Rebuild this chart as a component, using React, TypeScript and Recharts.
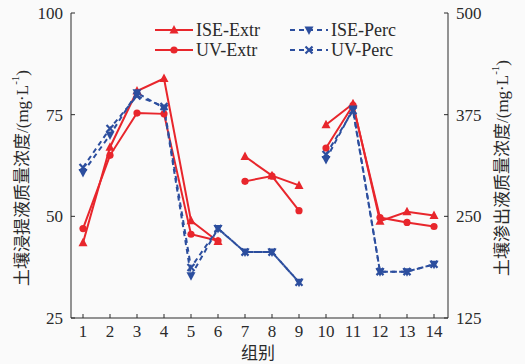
import { Line, LineChart, XAxis, YAxis } from 'recharts';

const groups = ['1', '2', '3', '4', '5', '6', '7', '8', '9', '10', '11', '12', '13', '14'];
const iseExtr = [43.5, 67.0, 80.8, 83.9, 48.9, 43.8, 64.7, 60.0, 57.6, 72.5, 77.7, 48.8, 51.1, 50.2];
const uvExtr = [47.0, 65.0, 75.4, 75.2, 45.6, 44.0, 58.6, 59.9, 51.4, 66.8, 77.3, 49.7, 48.5, 47.5];
const isePerc = [304, 350, 402, 383, 177, 235, 206, 206, 169, 320, 382, 182, 182, 191];
const uvPerc = [310, 358, 398, 385, 187, 235, 206, 206, 169, 326, 380, 182, 182, 191];
const leftTicks = [25, 50, 75, 100];
const rightTicks = [125, 250, 375, 500];

// index ranges that are joined by a line
const extrSegments = [[0, 5], [6, 8], [9, 13]];
const percSegments = [[0, 8], [9, 13]];

const RED = '#e8262c';
const BLUE = '#2c4e9e';
const FONT = "'Liberation Serif', 'Noto Sans CJK SC', serif";
const INK = '#2a2a2a';

type Marker = 'up' | 'circle' | 'down' | 'cross';

const series = [
  { key: 'iseExtr', name: 'ISE-Extr', values: iseExtr, segments: extrSegments, color: RED, dashed: false, marker: 'up' as Marker, axis: 'left' },
  { key: 'uvExtr', name: 'UV-Extr', values: uvExtr, segments: extrSegments, color: RED, dashed: false, marker: 'circle' as Marker, axis: 'left' },
  { key: 'isePerc', name: 'ISE-Perc', values: isePerc, segments: percSegments, color: BLUE, dashed: true, marker: 'down' as Marker, axis: 'right' },
  { key: 'uvPerc', name: 'UV-Perc', values: uvPerc, segments: percSegments, color: BLUE, dashed: true, marker: 'cross' as Marker, axis: 'right' },
];

const rows = groups.map((g, i) => {
  const row: any = { group: g };
  series.forEach((s) => {
    s.segments.forEach(([a, b], k) => {
      row[`${s.key}${k}`] = i >= a && i <= b ? s.values[i] : null;
    });
  });
  return row;
});

function drawMarker(type: Marker, cx: number, cy: number, color: string, key?: any) {
  if (type === 'up') {
    return <path key={key} d={`M${cx},${cy - 5} L${cx + 4.5},${cy + 3.5} L${cx - 4.5},${cy + 3.5} Z`} fill={color} />;
  }
  if (type === 'down') {
    return <path key={key} d={`M${cx},${cy + 5} L${cx + 4.5},${cy - 3.5} L${cx - 4.5},${cy - 3.5} Z`} fill={color} />;
  }
  if (type === 'circle') {
    return <circle key={key} cx={cx} cy={cy} r={3.6} fill={color} />;
  }
  return (
    <path
      key={key}
      d={`M${cx - 3.5},${cy - 3.5} L${cx + 3.5},${cy + 3.5} M${cx - 3.5},${cy + 3.5} L${cx + 3.5},${cy - 3.5}`}
      stroke={color}
      strokeWidth={2.2}
    />
  );
}

const dotFor = (type: Marker, color: string) => (props: any) => {
  const { cx, cy, value, index } = props;
  if (value == null || cx == null || cy == null) return <g key={index} />;
  return drawMarker(type, cx, cy, color, index);
};

const XTick = (props: any) => {
  const { x, y, payload } = props;
  return (
    <g>
      <line x1={x} x2={x} y1={y - 6} y2={y - 10} stroke={INK} strokeWidth={1} />
      <text x={x} y={y} dy="0.75em" textAnchor="middle" fontFamily={FONT} fontSize={17} fill={INK}>
        {payload.value}
      </text>
    </g>
  );
};

const LeftTick = (props: any) => {
  const { x, y, payload } = props;
  return (
    <g>
      <line x1={x + 8} x2={x + 12} y1={y} y2={y} stroke={INK} strokeWidth={1} />
      <text x={x} y={y} dy="0.35em" textAnchor="end" fontFamily={FONT} fontSize={17} fill={INK}>
        {payload.value}
      </text>
    </g>
  );
};

const RightTick = (props: any) => {
  const { x, y, payload } = props;
  return (
    <g>
      <line x1={x - 8} x2={x - 12} y1={y} y2={y} stroke={INK} strokeWidth={1} />
      <text x={x} y={y} dy="0.35em" textAnchor="start" fontFamily={FONT} fontSize={17} fill={INK}>
        {payload.value}
      </text>
    </g>
  );
};

function AxisTitle({ x, y, text }: { x: number; y: number; text: string }) {
  return (
    <text
      x={x}
      y={y}
      transform={`rotate(-90, ${x}, ${y})`}
      textAnchor="middle"
      dominantBaseline="central"
      fontFamily={FONT}
      fontSize={17}
      fill={INK}
    >
      {text}/(mg·L<tspan dy={-7} fontSize={11}>-1</tspan>
      <tspan dy={7}>)</tspan>
    </text>
  );
}

function Overlay() {
  const cols = [155, 290];
  const rowsY = [30, 50];
  return (
    <svg width={525} height={364} style={{ position: 'absolute', left: 0, top: 0, pointerEvents: 'none' }}>
      {series.map((s, i) => {
        const x0 = cols[Math.floor(i / 2)];
        const y = rowsY[i % 2];
        return (
          <g key={s.key}>
            <line
              x1={x0}
              x2={x0 + 38}
              y1={y}
              y2={y}
              stroke={s.color}
              strokeWidth={2}
              strokeDasharray={s.dashed ? '5 4' : undefined}
            />
            {drawMarker(s.marker, x0 + 19, y, s.color)}
            <text x={x0 + 41} y={y} dy="0.35em" fontFamily={FONT} fontSize={18} fill={INK}>
              {s.name}
            </text>
          </g>
        );
      })}
      <AxisTitle x={22} y={178} text="土壤浸提液质量浓度" />
      <AxisTitle x={502} y={168} text="土壤渗出液质量浓度" />
      <text x={258} y={353} textAnchor="middle" dominantBaseline="central" fontFamily={FONT} fontSize={17} fill={INK}>
        组别
      </text>
    </svg>
  );
}

export default function App() {
  return (
    <div style={{ position: 'fixed', left: 0, top: 0, width: 525, height: 364, background: '#fafafa' }}>
      <LineChart width={525} height={364} data={rows} margin={{ top: 13, right: 0, bottom: 0, left: 0 }}>
        <XAxis
          dataKey="group"
          height={46}
          interval={0}
          padding={{ left: 12, right: 14 }}
          tickSize={0}
          tickMargin={6}
          tickLine={false}
          tick={<XTick />}
          axisLine={{ stroke: INK }}
        />
        <YAxis
          yAxisId="left"
          orientation="left"
          width={71}
          domain={[25, 100]}
          ticks={leftTicks}
          tickSize={0}
          tickMargin={8}
          tickLine={false}
          tick={<LeftTick />}
          axisLine={{ stroke: INK }}
          allowDataOverflow
        />
        <YAxis
          yAxisId="right"
          orientation="right"
          width={77}
          domain={[125, 500]}
          ticks={rightTicks}
          tickSize={0}
          tickMargin={8}
          tickLine={false}
          tick={<RightTick />}
          axisLine={{ stroke: INK }}
          allowDataOverflow
        />
        {series.flatMap((s) =>
          s.segments.map((_, k) => (
            <Line
              key={`${s.key}${k}`}
              dataKey={`${s.key}${k}`}
              yAxisId={s.axis}
              type="linear"
              stroke={s.color}
              strokeWidth={2}
              strokeDasharray={s.dashed ? '5 4' : undefined}
              dot={dotFor(s.marker, s.color)}
              activeDot={false}
              connectNulls={false}
              legendType="none"
              isAnimationActive={false}
            />
          ))
        )}
      </LineChart>
      <Overlay />
    </div>
  );
}
